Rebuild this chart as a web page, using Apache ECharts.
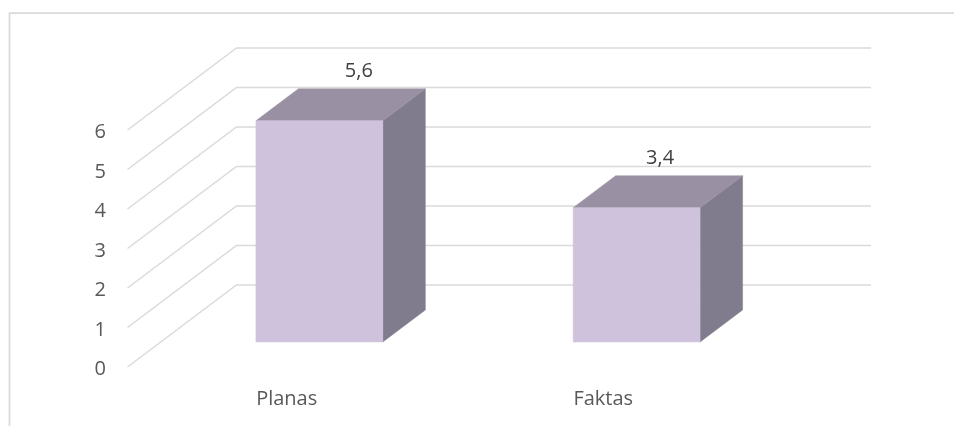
<!DOCTYPE html>
<html>
<head>
<meta charset="utf-8">
<style>html,body{margin:0;padding:0;background:#fff}#c{width:954px;height:426px}</style>
<script src="https://cdn.jsdelivr.net/npm/echarts@6/dist/echarts.min.js"></script>
</head>
<body>
<div id="c"></div>
<script>
const categories = ['Planas', 'Faktas'];
const values = [5.6, 3.4];
const valueLabels = ['5,6', '3,4'];
const yTicks = [0, 1, 2, 3, 4, 5, 6];

// oblique projection of the 3D box: vector from back wall to front of the floor
const DEPTH = [-109, 82];
const BAR_FRONT = 0.695, BAR_BACK = 0.305, BAR_WIDTH = 0.4;
const LABEL_SHIFT = [-3, -19];
const FONT = '"Open Sans", Lato, sans-serif';
const C = {front: '#cec2dc', top: '#9a90a3', side: '#807c8d', grid: '#dadada', text: '#595959', value: '#404040'};

function renderGrid(params, api) {
  const cs = params.coordSys;
  const y = api.coord([0, api.value(0)])[1];
  const x0 = cs.x, x1 = cs.x + cs.width;
  return {
    type: 'polyline',
    shape: {points: [[x0 + DEPTH[0], y + DEPTH[1]], [x0, y], [x1, y]]},
    style: {fill: null, stroke: C.grid, lineWidth: 1.5}
  };
}

function renderBar(params, api) {
  const i = api.value(0);
  const base = api.coord([i, 0]);
  const top = api.coord([i, api.value(1)]);
  const w = api.size([1, 0])[0] * BAR_WIDTH;
  const P = (x, y, d) => [x + DEPTH[0] * d, y + DEPTH[1] * d];
  const l = base[0] - w / 2, r = base[0] + w / 2;
  const poly = (pts, fill) => ({type: 'polygon', shape: {points: pts}, style: {fill: fill, stroke: fill, lineWidth: 0.5}});
  const backTop = P(base[0], top[1], BAR_BACK);
  return {
    type: 'group',
    children: [
      poly([P(r, base[1], BAR_FRONT), P(r, base[1], BAR_BACK), P(r, top[1], BAR_BACK), P(r, top[1], BAR_FRONT)], C.side),
      poly([P(l, top[1], BAR_FRONT), P(r, top[1], BAR_FRONT), P(r, top[1], BAR_BACK), P(l, top[1], BAR_BACK)], C.top),
      poly([P(l, base[1], BAR_FRONT), P(r, base[1], BAR_FRONT), P(r, top[1], BAR_FRONT), P(l, top[1], BAR_FRONT)], C.front),
      {type: 'text', style: {
        x: backTop[0] + LABEL_SHIFT[params.dataIndex], y: backTop[1] - 17.5,
        text: valueLabels[params.dataIndex], align: 'center', verticalAlign: 'middle',
        fill: C.value, font: '20px ' + FONT
      }}
    ]
  };
}

const chart = echarts.init(document.getElementById('c'), null, {renderer: 'canvas'});
const hidden = {axisLine: {show: false}, axisTick: {show: false}, splitLine: {show: false}};
chart.setOption({
  animation: false,
  backgroundColor: '#fff',
  grid: [
    {left: 236.5, top: 48, width: 634.5, height: 237},   // back wall
    {left: 97.5, top: 132.5, width: 634.5, height: 237}  // front plane, carries the axis labels
  ],
  xAxis: [
    {gridIndex: 0, type: 'category', data: categories, axisLabel: {show: false}, ...hidden},
    {gridIndex: 1, type: 'category', data: categories, ...hidden,
     axisLabel: {align: 'left', margin: 20, fontSize: 20, fontFamily: FONT, color: C.text}}
  ],
  yAxis: [
    {gridIndex: 0, type: 'value', min: 0, max: 6, interval: 1, axisLabel: {show: false}, ...hidden},
    {gridIndex: 1, type: 'value', min: 0, max: 6, interval: 1, ...hidden,
     axisLabel: {margin: -8.5, fontSize: 20, fontFamily: FONT, color: C.text}}
  ],
  graphic: [
    {type: 'polyline', silent: true, shape: {points: [[9.5, 426], [9.5, 13], [954, 13]]},
     style: {fill: null, stroke: C.grid, lineWidth: 1.75}}
  ],
  series: [
    {type: 'custom', xAxisIndex: 0, yAxisIndex: 0, z: 1, renderItem: renderGrid,
     data: yTicks.map(t => [t]), encode: {y: 0}, silent: true},
    {type: 'custom', xAxisIndex: 0, yAxisIndex: 0, z: 2, renderItem: renderBar,
     data: values.map((v, i) => [i, v]), encode: {x: 0, y: 1}, silent: true},
    {type: 'bar', xAxisIndex: 1, yAxisIndex: 1, data: [], silent: true}
  ]
});
</script>
</body>
</html>
